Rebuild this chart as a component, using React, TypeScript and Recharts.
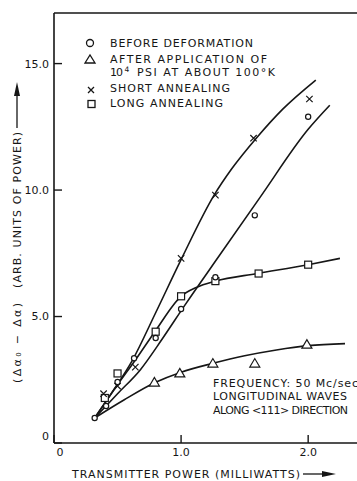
import React from "react";
import { ComposedChart, Line, Scatter, XAxis, YAxis } from "recharts";

// measured points, x = transmitter power (mW), y = (Δα0 - Δα) in arb. units
const beforeX = [0.32, 0.41, 0.5, 0.63, 0.8, 1.0, 1.27, 1.58, 2.0];
const beforeY = [0.99, 1.46, 2.41, 3.35, 4.15, 5.3, 6.55, 9.0, 12.9];

const afterX = [0.79, 0.99, 1.25, 1.58, 1.99];
const afterY = [2.41, 2.77, 3.16, 3.16, 3.91];

const shortX = [0.39, 0.5, 0.64, 1.0, 1.27, 1.57, 2.01];
const shortY = [1.95, 2.25, 3.0, 7.3, 9.8, 12.05, 13.6];

const longX = [0.4, 0.5, 0.8, 1.0, 1.27, 1.61, 2.0];
const longY = [1.78, 2.75, 4.4, 5.8, 6.4, 6.7, 7.05];

// hand drawn fitted curves
const beforeCurveX = [0.32, 0.5, 0.68, 0.85, 1.03, 1.3, 1.62, 2.0, 2.17];
const beforeCurveY = [0.99, 1.95, 2.9, 4.1, 5.45, 7.4, 9.7, 12.4, 13.35];

const shortCurveX = [0.32, 0.45, 0.62, 0.8, 1.0, 1.26, 1.4, 1.6, 1.8, 2.06];
const shortCurveY = [0.99, 1.95, 3.3, 5.15, 7.25, 9.8, 10.85, 12.1, 13.2, 14.35];

const longCurveX = [0.32, 0.5, 0.65, 0.8, 1.0, 1.12, 1.27, 1.6, 2.0, 2.25];
const longCurveY = [0.99, 2.3, 3.35, 4.45, 5.8, 6.15, 6.4, 6.7, 7.05, 7.3];

const afterCurveX = [0.32, 0.55, 0.8, 1.0, 1.25, 1.5, 1.75, 2.0, 2.29];
const afterCurveY = [0.99, 1.7, 2.4, 2.8, 3.15, 3.45, 3.68, 3.85, 3.93];

const xTicks = [0, 1, 2];
const yTicks = [0, 5, 10, 15];

const pts = (xs: number[], ys: number[]) => xs.map((x, i) => ({ x, y: ys[i] }));

const INK = "#161616";
const FONT = "'DejaVu Sans', sans-serif";

const Ring = ({ cx, cy }: any) => (
  <circle cx={cx} cy={cy} r={2.6} fill="#fff" stroke={INK} strokeWidth={1.2} />
);
const Tri = ({ cx, cy }: any) => (
  <polygon
    points={`${cx - 5},${cy + 4} ${cx + 5},${cy + 4} ${cx},${cy - 4.5}`}
    fill="#fff" stroke={INK} strokeWidth={1.2}
  />
);
const Cross = ({ cx, cy }: any) => (
  <path d={`M${cx - 3.2},${cy - 3.2}L${cx + 3.2},${cy + 3.2}M${cx + 3.2},${cy - 3.2}L${cx - 3.2},${cy + 3.2}`}
    stroke={INK} strokeWidth={1.2} />
);
const Box = ({ cx, cy }: any) => (
  <rect x={cx - 3.5} y={cy - 3.5} width={7} height={7} fill="#fff" stroke={INK} strokeWidth={1.2} />
);

const XTick = ({ x, y, payload }: any) => (
  <text x={x + (payload.value === 0 ? 6 : 0)} y={y} dy="0.71em" textAnchor="middle"
    fontSize={11} fontFamily={FONT} fill={INK}>
    {payload.value === 0 ? "0" : payload.value.toFixed(1)}
  </text>
);
const YTick = ({ x, y, payload }: any) => (
  <text x={x} y={y - (payload.value === 0 ? 7 : 0)} dy="0.36em" textAnchor="end"
    fontSize={11} fontFamily={FONT} fill={INK}>
    {payload.value === 0 ? "0" : payload.value.toFixed(1)}
  </text>
);

const txt = { fontSize: 11, fontFamily: FONT, fill: INK } as const;

export default function App() {
  return (
    <div style={{ position: "fixed", left: 0, top: 0, width: 357, height: 481, overflow: "hidden", background: "#fff" }}>
      <ComposedChart width={361} height={481} margin={{ top: 0, right: 0, bottom: 0, left: 0 }}>
        <XAxis dataKey="x" type="number" domain={[0, 2.4]} ticks={xTicks} allowDataOverflow
          height={38} tickSize={-8} tickMargin={13} tick={<XTick />}
          axisLine={{ stroke: INK, strokeWidth: 1.6 }} tickLine={{ stroke: INK, strokeWidth: 1.4 }} />
        <XAxis xAxisId="top" orientation="top" dataKey="x" type="number" domain={[0, 2.4]} ticks={[1, 2]}
          height={13} tickSize={-8} tickFormatter={() => ""}
          axisLine={{ stroke: INK, strokeWidth: 1.4 }} tickLine={{ stroke: INK, strokeWidth: 1.4 }} />
        <YAxis type="number" domain={[0, 17]} ticks={yTicks} allowDataOverflow
          width={54} tickSize={-8} tickMargin={13} tick={<YTick />}
          axisLine={{ stroke: INK, strokeWidth: 1.6 }} tickLine={{ stroke: INK, strokeWidth: 1.4 }} />
        <YAxis yAxisId="right" orientation="right" type="number" domain={[0, 17]} ticks={[5, 10, 15]}
          width={2} tickSize={-8} tickFormatter={() => ""}
          axisLine={{ stroke: INK, strokeWidth: 1.4 }} tickLine={{ stroke: INK, strokeWidth: 1.4 }} />

        <Line data={pts(shortCurveX, shortCurveY)} dataKey="y" type="monotone" stroke={INK}
          strokeWidth={1.6} dot={false} isAnimationActive={false} />
        <Line data={pts(beforeCurveX, beforeCurveY)} dataKey="y" type="monotone" stroke={INK}
          strokeWidth={1.6} dot={false} isAnimationActive={false} />
        <Line data={pts(longCurveX, longCurveY)} dataKey="y" type="monotone" stroke={INK}
          strokeWidth={1.6} dot={false} isAnimationActive={false} />
        <Line data={pts(afterCurveX, afterCurveY)} dataKey="y" type="monotone" stroke={INK}
          strokeWidth={1.6} dot={false} isAnimationActive={false} />

        <Scatter data={pts(longX, longY)} dataKey="y" shape={<Box />} isAnimationActive={false} />
        <Scatter data={pts(afterX, afterY)} dataKey="y" shape={<Tri />} isAnimationActive={false} />
        <Scatter data={pts(beforeX, beforeY)} dataKey="y" shape={<Ring />} isAnimationActive={false} />
        <Scatter data={pts(shortX, shortY)} dataKey="y" shape={<Cross />} isAnimationActive={false} />
      </ComposedChart>

      <svg width={357} height={481} style={{ position: "absolute", left: 0, top: 0, pointerEvents: "none" }}>
        {/* legend */}
        <circle cx={90} cy={43} r={3.5} fill="none" stroke={INK} strokeWidth={1.3} />
        <text x={110} y={47} {...txt} textLength={143} lengthAdjust="spacing">BEFORE DEFORMATION</text>
        <polygon points="85,63 95,63 90,55" fill="none" stroke={INK} strokeWidth={1.3} />
        <text x={110} y={63} {...txt} textLength={157} lengthAdjust="spacing">AFTER APPLICATION OF</text>
        <text x={110} y={76} {...txt} textLength={13} lengthAdjust="spacing">10</text>
        <text x={124.5} y={72} {...txt} fontSize={7.5}>4</text>
        <text x={137} y={76} {...txt} textLength={138} lengthAdjust="spacing">PSI AT ABOUT 100°K</text>
        <path d="M88,87L94,93M94,87L88,93" stroke={INK} strokeWidth={1.3} />
        <text x={110} y={92} {...txt} textLength={120} lengthAdjust="spacing">SHORT ANNEALING</text>
        <rect x={88} y={100.5} width={7} height={7} fill="none" stroke={INK} strokeWidth={1.3} />
        <text x={110} y={107} {...txt} textLength={113} lengthAdjust="spacing">LONG ANNEALING</text>

        {/* note */}
        <text x={213} y={387} {...txt} textLength={145} lengthAdjust="spacing">FREQUENCY: 50 Mc/sec</text>
        <text x={213} y={400} {...txt} textLength={134} lengthAdjust="spacing">LONGITUDINAL  WAVES</text>
        <text x={213} y={414} {...txt} textLength={135} lengthAdjust="spacing">ALONG &lt;111&gt; DIRECTION</text>

        {/* x title */}
        <text x={72} y={478} {...txt} textLength={228} lengthAdjust="spacing">TRANSMITTER POWER (MILLIWATTS)</text>
        <line x1={303} y1={474} x2={325} y2={474} stroke={INK} strokeWidth={1.3} />
        <polygon points="322,471 336,474 322,477" fill={INK} />

        {/* y title */}
        <g transform="translate(21,240) rotate(-90)">
          <text x={-143} y={0} {...txt} textLength={80} lengthAdjust="spacing">(Δα₀ − Δα)</text>
          <text x={-48} y={0} {...txt} textLength={156} lengthAdjust="spacing">(ARB. UNITS OF POWER)</text>
          <line x1={112} y1={-4} x2={148} y2={-4} stroke={INK} strokeWidth={1.3} />
          <polygon points="144,-7 158,-4 144,-1" fill={INK} />
        </g>
      </svg>
    </div>
  );
}
